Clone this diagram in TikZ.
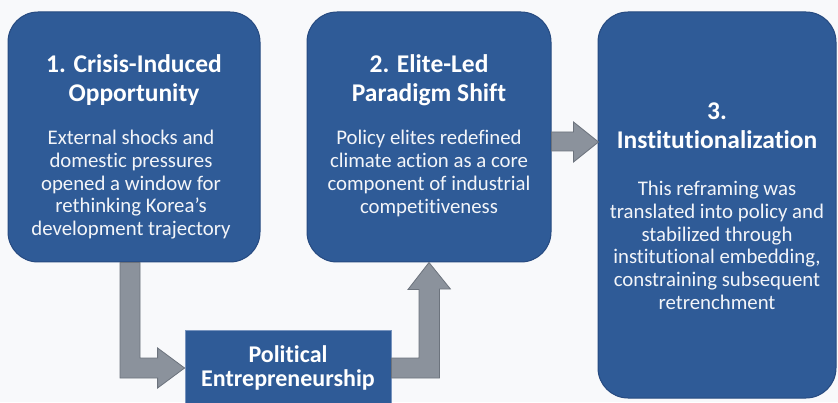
\documentclass[tikz,border=0pt]{standalone}
\usepackage{fontspec}
\setmainfont{Carlito}[Ligatures={TeX,NoCommon}]
\usetikzlibrary{positioning,calc}

\definecolor{stageblue}{RGB}{47,91,151}
\definecolor{stageedge}{RGB}{38,74,128}
\definecolor{entreedge}{RGB}{120,148,190}
\definecolor{flowgray}{RGB}{139,146,156}
\definecolor{flowedge}{RGB}{108,115,125}
\definecolor{paper}{RGB}{248,249,251}

\begin{document}
\begin{tikzpicture}[x=1pt, y=1pt,
  stage/.style={draw=stageedge, line width=1pt, fill=stageblue, rounded corners=30pt, inner sep=0pt},
  stagetitle/.style={text=white, align=center, inner sep=0pt, font=\fontsize{25.5}{29}\selectfont\bfseries},
  stagebody/.style={text=white!94!stageblue, align=center, inner sep=0pt, font=\fontsize{20.8}{22.8}\selectfont},
  flow/.style={draw=flowedge, line width=0.8pt, fill=flowgray, line join=miter}]
  % page
  \fill[paper] (0,0) rectangle (838,402);
  \useasboundingbox (0,0) rectangle (838,402);

  % the three stages
  \node[stage, minimum width=252pt, minimum height=250pt] (crisis) at (134,265) {};
  \node[stage, minimum width=244pt, minimum height=250pt] (elite) at (429,265) {};
  \node[stage, minimum width=238pt, minimum height=386pt] (inst) at (717,197) {};

  % mechanism box under the first two stages
  \node[draw=entreedge, line width=0.8pt, fill=stageblue, minimum width=206pt, minimum height=76pt,
        text=white, align=center, font=\fontsize{24}{24.5}\selectfont\bfseries] (entre) at (288,34)
        {Political\\Entrepreneurship};

  % stage texts
  \node[stagetitle, below=43pt of crisis.north] (crisistitle) {1. Crisis-Induced\\Opportunity};
  \node[stagebody, below=24pt of crisistitle, xshift=-3pt] (crisisbody)
    {External shocks and\\domestic pressures\\opened a window for\\rethinking Korea's\\development trajectory};

  \node[stagetitle, below=43pt of elite.north] (elitetitle) {2. Elite-Led\\Paradigm Shift};
  \node[stagebody, below=24pt of elitetitle] (elitebody)
    {Policy elites redefined\\climate action as a core\\component of industrial\\competitiveness};

  \node[stagetitle, below=91pt of inst.north] (insttitle) {3.\\Institutionalization};
  \node[stagebody, below=32pt of insttitle] (instbody)
    {This reframing was\\translated into policy and\\stabilized through\\institutional embedding,\\constraining subsequent\\retrenchment};

  % block arrows
  \draw[flow] ([xshift=-14pt]crisis.south) -- ++(20,0) |- ([xshift=-27pt,yshift=10pt]entre.west)
    -- ++(0,10) -- (entre.west) -- ++(-27,-20) -- ++(0,10) -| ([xshift=-14pt]crisis.south) -- cycle;
  \draw[flow] ([yshift=-10pt]entre.east) -- ++(48,0) -- ++(0,89) -- ++(11,0) -- (elite.south)
    -- ++(-21,-27) -- ++(11,0) |- ([yshift=10pt]entre.east) -- cycle;
  \draw[flow] ([yshift=-14pt]elite.east) -- ++(22,0) -- ++(0,-11) -- ++(25,20) -- ++(-25,20)
    -- ++(0,-10) -- ++(-22,0) -- cycle;
\end{tikzpicture}
\end{document}
